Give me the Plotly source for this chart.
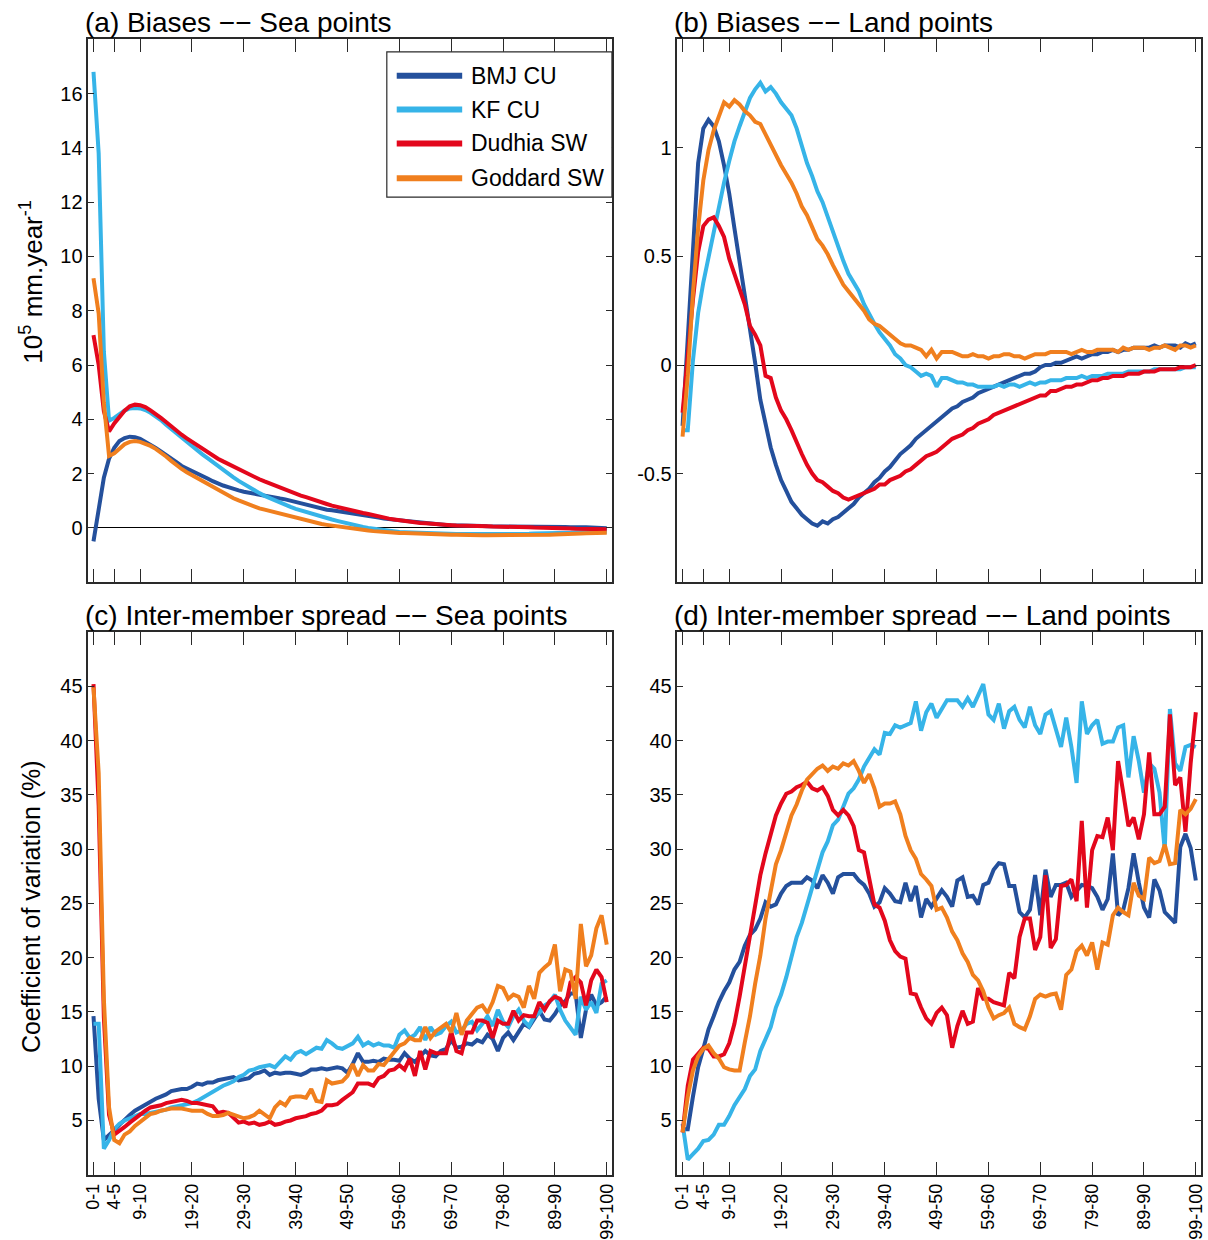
import plotly.graph_objects as go

W, H = 1208, 1240
FONT = "Liberation Sans, Arial, Helvetica, sans-serif"

# Precipitation-intensity bins (percentile classes) on the x axis
BIN_LABELS = [f"{i}-{i + 1}" for i in range(100)]
TICK_LABELS = ["0-1", "4-5", "9-10", "19-20", "29-30", "39-40", "49-50",
               "59-60", "69-70", "79-80", "89-90", "99-100"]

SERIES = ["BMJ CU", "KF CU", "Dudhia SW", "Goddard SW"]
COLORS = ["#24509C", "#36B4E8", "#E3071C", "#F07F1E"]

# ---- (a) Biases, sea points (10^5 mm/year) ----
bias_sea_bmj = [
    -0.50, 0.75, 1.85, 2.55, 2.95, 3.20, 3.31, 3.36, 3.34, 3.28,
    3.18, 3.06, 2.94, 2.82, 2.70, 2.57, 2.42, 2.28, 2.18, 2.10,
    2.00, 1.92, 1.82, 1.72, 1.62, 1.56, 1.50, 1.43, 1.38, 1.33,
    1.29, 1.25, 1.22, 1.18, 1.15, 1.12, 1.08, 1.05, 1.00, 0.94,
    0.89, 0.84, 0.79, 0.74, 0.70, 0.67, 0.65, 0.62, 0.60, 0.58,
    0.56, 0.52, 0.48, 0.45, 0.42, 0.38, 0.34, 0.32, 0.29, 0.27,
    0.25, 0.22, 0.20, 0.19, 0.17, 0.15, 0.14, 0.12, 0.11, 0.10,
    0.10, 0.09, 0.08, 0.08, 0.07, 0.07, 0.06, 0.06, 0.06, 0.05,
    0.06, 0.05, 0.04, 0.05, 0.04, 0.04, 0.03, 0.05, 0.04, 0.04,
    0.03, 0.03, 0.02, 0.03, 0.02, 0.02, 0.01, 0.01, 0.00, -0.01]
bias_sea_kf = [
    16.80, 13.80, 6.50, 3.95, 4.05, 4.20, 4.32, 4.40, 4.42, 4.40,
    4.34, 4.24, 4.12, 3.97, 3.80, 3.64, 3.47, 3.31, 3.16, 3.01,
    2.86, 2.71, 2.57, 2.42, 2.27, 2.13, 2.00, 1.86, 1.73, 1.61,
    1.49, 1.38, 1.28, 1.18, 1.09, 1.00, 0.92, 0.84, 0.77, 0.70,
    0.64, 0.58, 0.52, 0.46, 0.41, 0.36, 0.31, 0.26, 0.21, 0.15,
    0.10, 0.06, 0.03, 0.00, -0.03, -0.06, -0.09, -0.11, -0.13, -0.15,
    -0.16, -0.17, -0.18, -0.19, -0.20, -0.20, -0.21, -0.21, -0.22, -0.22,
    -0.23, -0.23, -0.23, -0.24, -0.24, -0.24, -0.24, -0.25, -0.24, -0.24,
    -0.24, -0.23, -0.23, -0.22, -0.22, -0.21, -0.21, -0.20, -0.20, -0.19,
    -0.19, -0.18, -0.18, -0.17, -0.17, -0.16, -0.16, -0.15, -0.15, -0.14]
bias_sea_dudhia = [
    7.10, 6.00, 4.30, 3.55, 3.85, 4.10, 4.32, 4.48, 4.54, 4.52,
    4.45, 4.33, 4.21, 4.05, 3.90, 3.73, 3.57, 3.43, 3.30, 3.17,
    3.04, 2.91, 2.79, 2.67, 2.55, 2.45, 2.35, 2.25, 2.16, 2.06,
    1.96, 1.87, 1.79, 1.71, 1.63, 1.55, 1.47, 1.40, 1.33, 1.26,
    1.19, 1.13, 1.06, 0.99, 0.93, 0.88, 0.82, 0.77, 0.72, 0.68,
    0.63, 0.59, 0.55, 0.51, 0.46, 0.41, 0.37, 0.34, 0.31, 0.28,
    0.25, 0.22, 0.20, 0.18, 0.17, 0.15, 0.14, 0.12, 0.11, 0.10,
    0.09, 0.09, 0.08, 0.08, 0.07, 0.07, 0.06, 0.05, 0.05, 0.04,
    0.04, 0.03, 0.03, 0.02, 0.02, 0.01, 0.01, 0.00, 0.00, -0.01,
    -0.01, -0.02, -0.02, -0.03, -0.03, -0.03, -0.04, -0.04, -0.05, -0.05]
bias_sea_goddard = [
    9.20, 7.90, 4.60, 2.65, 2.75, 2.92, 3.08, 3.17, 3.20, 3.17,
    3.11, 3.02, 2.91, 2.78, 2.63, 2.47, 2.31, 2.17, 2.05, 1.94,
    1.82, 1.71, 1.60, 1.49, 1.38, 1.28, 1.18, 1.09, 1.01, 0.93,
    0.84, 0.77, 0.72, 0.67, 0.62, 0.57, 0.52, 0.47, 0.42, 0.37,
    0.32, 0.27, 0.22, 0.18, 0.14, 0.11, 0.08, 0.05, 0.02, -0.01,
    -0.04, -0.06, -0.08, -0.10, -0.12, -0.14, -0.16, -0.17, -0.18, -0.19,
    -0.19, -0.20, -0.20, -0.21, -0.22, -0.23, -0.23, -0.24, -0.24, -0.25,
    -0.25, -0.26, -0.26, -0.26, -0.27, -0.27, -0.27, -0.27, -0.28, -0.27,
    -0.27, -0.27, -0.27, -0.26, -0.27, -0.26, -0.26, -0.25, -0.25, -0.24,
    -0.24, -0.23, -0.22, -0.22, -0.21, -0.20, -0.20, -0.19, -0.19, -0.18]

# ---- (b) Biases, land points (10^5 mm/year) ----
bias_land_bmj = [
    -0.28, 0.15, 0.55, 0.93, 1.09, 1.13, 1.10, 1.03, 0.92, 0.79,
    0.63, 0.48, 0.33, 0.18, 0.01, -0.16, -0.28, -0.38, -0.46, -0.53,
    -0.58, -0.63, -0.66, -0.69, -0.71, -0.73, -0.74, -0.72, -0.73, -0.71,
    -0.70, -0.68, -0.66, -0.64, -0.61, -0.59, -0.57, -0.54, -0.52, -0.49,
    -0.47, -0.44, -0.41, -0.39, -0.37, -0.34, -0.32, -0.30, -0.28, -0.26,
    -0.24, -0.22, -0.20, -0.19, -0.17, -0.16, -0.15, -0.13, -0.12, -0.11,
    -0.10, -0.09, -0.08, -0.07, -0.06, -0.05, -0.04, -0.04, -0.03, -0.01,
    0.00, 0.00, 0.01, 0.01, 0.02, 0.03, 0.04, 0.03, 0.04, 0.05,
    0.05, 0.06, 0.06, 0.07, 0.06, 0.07, 0.07, 0.08, 0.08, 0.08,
    0.08, 0.09, 0.08, 0.09, 0.09, 0.09, 0.08, 0.10, 0.09, 0.10]
bias_land_kf = [
    -0.30, -0.30, 0.02, 0.24, 0.38, 0.50, 0.62, 0.73, 0.84, 0.94,
    1.03, 1.10, 1.17, 1.23, 1.27, 1.30, 1.26, 1.28, 1.25, 1.21,
    1.18, 1.15, 1.09, 1.01, 0.93, 0.87, 0.80, 0.75, 0.68, 0.62,
    0.55, 0.48, 0.42, 0.38, 0.34, 0.28, 0.23, 0.19, 0.15, 0.12,
    0.09, 0.05, 0.03, 0.00, -0.01, -0.03, -0.05, -0.04, -0.05, -0.10,
    -0.06, -0.06, -0.07, -0.08, -0.08, -0.09, -0.09, -0.10, -0.10, -0.10,
    -0.10, -0.09, -0.10, -0.09, -0.09, -0.10, -0.09, -0.08, -0.09, -0.08,
    -0.08, -0.07, -0.07, -0.07, -0.06, -0.06, -0.06, -0.05, -0.06, -0.05,
    -0.05, -0.05, -0.04, -0.04, -0.04, -0.04, -0.03, -0.03, -0.03, -0.03,
    -0.03, -0.02, -0.02, -0.02, -0.02, -0.02, -0.02, -0.01, -0.01, -0.01]
bias_land_dudhia = [
    -0.22, 0.05, 0.30, 0.52, 0.64, 0.67, 0.68, 0.64, 0.59, 0.49,
    0.42, 0.35, 0.28, 0.18, 0.14, 0.09, -0.05, -0.06, -0.15, -0.21,
    -0.25, -0.30, -0.36, -0.41, -0.46, -0.50, -0.53, -0.54, -0.56, -0.58,
    -0.59, -0.61, -0.62, -0.61, -0.60, -0.59, -0.58, -0.57, -0.55, -0.55,
    -0.53, -0.52, -0.51, -0.49, -0.48, -0.46, -0.44, -0.42, -0.41, -0.40,
    -0.38, -0.36, -0.34, -0.33, -0.32, -0.30, -0.29, -0.27, -0.26, -0.25,
    -0.23, -0.22, -0.21, -0.20, -0.19, -0.18, -0.17, -0.16, -0.15, -0.14,
    -0.14, -0.12, -0.12, -0.11, -0.10, -0.10, -0.09, -0.09, -0.08, -0.07,
    -0.07, -0.06, -0.06, -0.05, -0.05, -0.05, -0.04, -0.04, -0.04, -0.03,
    -0.03, -0.03, -0.02, -0.02, -0.02, -0.02, -0.01, -0.01, -0.01, 0.00]
bias_land_goddard = [
    -0.33, -0.05, 0.33, 0.63, 0.85, 0.99, 1.08, 1.15, 1.21, 1.19,
    1.22, 1.20, 1.17, 1.15, 1.12, 1.11, 1.06, 1.01, 0.96, 0.92,
    0.88, 0.84, 0.79, 0.73, 0.69, 0.63, 0.58, 0.55, 0.51, 0.46,
    0.41, 0.37, 0.34, 0.31, 0.28, 0.25, 0.21, 0.19, 0.18, 0.16,
    0.14, 0.12, 0.10, 0.09, 0.09, 0.08, 0.07, 0.04, 0.07, 0.03,
    0.06, 0.06, 0.06, 0.05, 0.04, 0.04, 0.05, 0.04, 0.04, 0.03,
    0.04, 0.04, 0.05, 0.05, 0.04, 0.04, 0.03, 0.04, 0.05, 0.05,
    0.05, 0.06, 0.06, 0.06, 0.06, 0.05, 0.06, 0.07, 0.06, 0.06,
    0.07, 0.07, 0.07, 0.07, 0.06, 0.08, 0.07, 0.08, 0.08, 0.08,
    0.07, 0.08, 0.08, 0.09, 0.08, 0.07, 0.09, 0.09, 0.08, 0.09]

# ---- (c) Inter-member spread, sea points (coefficient of variation, %) ----
spread_sea_bmj = [
    14.6, 7.0, 3.2, 3.6, 4.1, 4.6, 5.1, 5.5, 5.9, 6.2,
    6.5, 6.8, 7.0, 7.2, 7.4, 7.7, 7.8, 7.9, 7.9, 8.1,
    8.4, 8.3, 8.5, 8.5, 8.7, 8.8, 8.9, 9.0, 8.7, 8.8,
    8.9, 9.3, 9.4, 9.6, 9.2, 9.4, 9.3, 9.4, 9.4, 9.3,
    9.2, 9.4, 9.7, 9.7, 9.8, 9.7, 9.8, 9.9, 9.8, 9.4,
    10.2, 11.2, 10.4, 10.4, 10.5, 10.4, 10.7, 10.6, 10.6, 10.5,
    11.2, 10.7, 10.4, 10.9, 11.4, 11.0, 10.9, 11.4, 11.6, 12.4,
    11.7, 11.8, 12.1, 12.0, 12.4, 12.2, 12.9, 12.5, 11.4, 12.6,
    13.1, 12.4, 13.2, 13.9, 13.6, 14.4, 15.1, 14.3, 14.2, 14.8,
    15.6, 16.0, 16.7, 16.7, 12.6, 15.2, 16.6, 15.6, 15.9, 16.4]
spread_sea_kf = [
    13.9, 13.9, 2.4, 3.2, 4.2, 4.7, 5.0, 5.2, 5.4, 5.6,
    5.6, 5.7, 5.8, 5.9, 6.0, 6.2, 6.3, 6.4, 6.5, 6.6,
    6.8, 7.1, 7.4, 7.7, 8.0, 8.2, 8.4, 8.6, 9.0, 9.2,
    9.6, 9.7, 9.9, 10.0, 10.1, 9.9, 10.4, 10.9, 10.6, 11.2,
    11.4, 11.1, 11.4, 11.7, 11.6, 12.4, 12.1, 11.7, 11.6, 11.9,
    12.1, 12.7, 11.9, 12.2, 11.9, 12.1, 11.9, 11.9, 11.7, 12.9,
    13.3, 12.6, 12.9, 13.6, 12.4, 13.6, 12.9, 13.1, 13.7, 14.1,
    13.1, 13.3, 13.9, 14.1, 13.3, 13.9, 14.6, 13.7, 15.2, 14.1,
    13.6, 14.6, 15.2, 14.2, 13.7, 14.6, 14.9, 15.6, 15.9, 16.6,
    15.2, 14.2, 13.6, 12.9, 16.4, 15.2, 15.9, 14.9, 17.6, 17.9]
spread_sea_dudhia = [
    45.2, 34.0, 14.5, 5.5, 3.7, 4.0, 4.4, 4.8, 5.2, 5.6,
    5.9, 6.2, 6.3, 6.4, 6.6, 6.7, 6.8, 6.9, 6.8, 6.6,
    6.6, 6.5, 6.4, 6.3, 5.7, 5.8, 5.7, 5.3, 4.8, 4.9,
    4.7, 4.8, 4.6, 4.7, 4.9, 4.6, 4.7, 4.9, 5.0, 5.2,
    5.3, 5.4, 5.6, 5.7, 5.9, 6.4, 6.4, 6.5, 6.9, 7.3,
    7.6, 8.4, 8.4, 8.4, 8.2, 8.9, 9.1, 9.6, 9.7, 10.1,
    9.7, 10.7, 9.1, 11.4, 9.7, 11.4, 11.2, 11.2, 11.2, 13.2,
    11.4, 11.2, 13.1, 13.1, 14.2, 14.2, 14.0, 12.6, 14.2, 13.9,
    13.9, 15.1, 14.2, 14.7, 14.6, 14.6, 15.9, 15.2, 16.0, 16.4,
    16.2, 15.4, 17.7, 18.2, 17.7, 15.6, 17.9, 18.9, 18.2, 15.9]
spread_sea_goddard = [
    44.9, 37.0, 16.2, 6.2, 3.2, 2.9, 3.7, 4.0, 4.5, 4.9,
    5.3, 5.6, 5.7, 5.9, 6.0, 6.1, 6.1, 6.1, 6.0, 5.9,
    5.9, 5.9, 5.6, 5.4, 5.4, 5.5, 5.7, 5.5, 5.4, 5.2,
    5.3, 5.5, 5.9, 5.6, 5.2, 6.2, 6.7, 6.4, 7.1, 7.2,
    7.2, 7.1, 7.9, 6.8, 6.7, 8.7, 8.4, 8.5, 8.6, 9.1,
    10.2, 9.1, 10.1, 9.6, 9.6, 10.2, 10.1, 10.7, 11.3, 11.9,
    12.1, 12.6, 12.4, 12.4, 13.6, 12.6, 13.2, 13.6, 13.9, 13.1,
    14.9, 12.9, 14.2, 14.8, 15.4, 15.6, 14.9, 15.9, 17.4, 17.2,
    16.2, 16.6, 16.4, 15.4, 17.4, 16.2, 18.6, 19.1, 19.5, 21.2,
    16.9, 18.9, 18.7, 16.2, 23.1, 19.2, 20.2, 22.7, 23.9, 21.2]

# ---- (d) Inter-member spread, land points (coefficient of variation, %) ----
spread_land_bmj = [
    4.2, 4.2, 7.2, 9.9, 11.6, 13.4, 14.6, 15.9, 16.9, 17.7,
    18.9, 19.6, 21.1, 22.1, 22.6, 23.6, 25.1, 24.7, 24.9, 25.9,
    26.6, 26.9, 26.9, 26.9, 27.4, 27.1, 26.4, 27.6, 26.9, 25.9,
    27.4, 27.7, 27.7, 27.7, 27.1, 26.7, 25.9, 24.7, 25.1, 26.4,
    25.9, 25.2, 25.1, 26.9, 25.2, 26.6, 23.7, 25.4, 24.7, 25.4,
    26.2, 25.6, 24.7, 27.1, 27.4, 25.6, 25.7, 24.9, 26.7, 26.9,
    28.1, 28.7, 28.6, 26.6, 26.6, 24.2, 23.7, 24.4, 27.6, 23.9,
    28.1, 25.6, 26.7, 26.7, 26.9, 25.6, 26.2, 26.7, 26.6, 26.4,
    25.6, 24.4, 25.4, 29.6, 23.9, 24.4, 26.4, 29.6, 26.9, 24.6,
    23.7, 27.2, 26.2, 24.2, 23.7, 23.2, 30.2, 31.4, 30.1, 27.1]
spread_land_kf = [
    4.7, 1.4, 1.9, 2.4, 3.1, 3.2, 3.7, 4.6, 4.6, 5.4,
    6.4, 7.1, 7.9, 9.1, 9.7, 11.4, 12.6, 13.6, 15.4, 16.6,
    18.2, 20.2, 21.9, 23.2, 24.9, 26.6, 28.2, 29.7, 30.7, 32.2,
    32.7, 33.9, 35.1, 35.6, 36.4, 37.6, 38.4, 39.2, 38.7, 40.7,
    40.6, 41.4, 41.2, 41.4, 41.6, 43.6, 40.9, 42.6, 43.4, 42.1,
    42.9, 43.7, 43.7, 43.7, 43.1, 43.9, 43.1, 44.2, 45.2, 42.4,
    41.9, 43.4, 41.1, 42.7, 43.1, 41.9, 41.2, 43.1, 41.4, 40.6,
    42.4, 42.7, 41.2, 39.4, 42.1, 39.4, 36.1, 43.6, 40.6, 41.4,
    41.9, 39.7, 39.9, 39.9, 41.2, 41.4, 36.6, 40.4, 38.1, 35.2,
    37.9, 37.4, 35.2, 29.9, 42.9, 37.9, 37.2, 39.4, 39.6, 39.4]
spread_land_dudhia = [
    3.9, 8.2, 10.6, 11.2, 11.7, 11.6, 10.9, 10.9, 11.1, 12.1,
    13.9, 16.4, 19.2, 21.9, 24.9, 27.6, 29.6, 31.2, 33.1, 34.2,
    35.1, 35.3, 35.7, 35.9, 36.2, 35.6, 35.4, 35.7, 34.9, 33.6,
    33.1, 33.6, 33.1, 32.1, 29.9, 29.7, 27.2, 24.9, 24.6, 23.4,
    21.6, 20.6, 20.1, 19.9, 16.7, 16.6, 15.4, 14.4, 13.9, 14.9,
    15.4, 14.7, 11.7, 13.7, 15.1, 13.9, 14.1, 17.2, 16.2, 16.2,
    15.9, 15.7, 15.6, 18.6, 18.1, 21.9, 23.6, 23.6, 20.7, 21.9,
    27.6, 20.9, 21.7, 26.6, 26.7, 27.2, 25.2, 32.6, 24.6, 29.9,
    31.2, 31.1, 32.9, 29.9, 38.1, 35.2, 32.1, 32.9, 30.9, 33.2,
    38.9, 33.2, 33.2, 33.9, 42.4, 35.9, 36.6, 31.6, 37.9, 42.6]
spread_land_goddard = [
    3.9, 7.2, 9.6, 10.9, 11.6, 11.9, 11.2, 10.7, 9.9, 9.7,
    9.6, 9.6, 12.2, 14.6, 17.6, 20.2, 23.6, 26.1, 28.6, 29.9,
    31.6, 33.1, 34.1, 35.4, 36.4, 36.9, 37.4, 37.7, 37.2, 37.6,
    37.4, 37.9, 37.7, 38.1, 37.2, 36.1, 36.9, 35.6, 33.9, 34.2,
    34.2, 34.4, 33.2, 31.2, 29.9, 29.1, 27.7, 27.2, 26.6, 24.4,
    24.6, 23.7, 22.4, 21.6, 20.4, 19.6, 18.4, 17.9, 16.9, 15.4,
    14.4, 14.7, 14.9, 15.4, 13.9, 13.6, 13.4, 14.6, 16.2, 16.6,
    16.4, 16.6, 16.7, 15.2, 18.4, 18.9, 20.6, 21.1, 20.2, 21.4,
    18.9, 21.4, 21.2, 23.9, 24.6, 24.2, 23.9, 26.9, 25.7, 25.4,
    29.2, 28.7, 28.9, 30.4, 28.6, 28.7, 33.6, 33.2, 33.7, 34.6]

BIAS_SEA_TICKS = [0, 2, 4, 6, 8, 10, 12, 14, 16]
BIAS_LAND_TICKS = [-0.5, 0, 0.5, 1]
BIAS_LAND_TICKTEXT = ["-0.5", "0", "0.5", "1"]
SPREAD_TICKS = [5, 10, 15, 20, 25, 30, 35, 40, 45]


def px_x(p):
    return p / W


def px_y(p):
    return 1 - p / H


# panel frames in page pixels: left, right, top, bottom
PANELS = [
    dict(name="", title="(a) Biases \u2212\u2212 Sea points", frame=(84, 612, 39.5, 584.5),
         data=[bias_sea_bmj, bias_sea_kf, bias_sea_dudhia, bias_sea_goddard],
         yrange=[-2, 18], yticks=BIAS_SEA_TICKS, yticktext=[str(v) for v in BIAS_SEA_TICKS],
         zero=True, xlabels=False),
    dict(name="2", title="(b) Biases \u2212\u2212 Land points", frame=(678, 1206, 39.5, 584.5),
         data=[bias_land_bmj, bias_land_kf, bias_land_dudhia, bias_land_goddard],
         yrange=[-1, 1.5], yticks=BIAS_LAND_TICKS, yticktext=BIAS_LAND_TICKTEXT,
         zero=True, xlabels=False),
    dict(name="3", title="(c) Inter-member spread \u2212\u2212 Sea points", frame=(84, 612, 634.5, 1179.5),
         data=[spread_sea_bmj, spread_sea_kf, spread_sea_dudhia, spread_sea_goddard],
         yrange=[0, 50], yticks=SPREAD_TICKS, yticktext=[str(v) for v in SPREAD_TICKS],
         zero=False, xlabels=True),
    dict(name="4", title="(d) Inter-member spread \u2212\u2212 Land points", frame=(678, 1206, 634.5, 1179.5),
         data=[spread_land_bmj, spread_land_kf, spread_land_dudhia, spread_land_goddard],
         yrange=[0, 50], yticks=SPREAD_TICKS, yticktext=[str(v) for v in SPREAD_TICKS],
         zero=False, xlabels=True),
]

AXIS_COLOR = "#2a2a2a"

fig = go.Figure()
layout = dict(
    width=W, height=H, autosize=False,
    margin=dict(l=0, r=0, t=0, b=0),
    paper_bgcolor="white", plot_bgcolor="white",
    showlegend=False,
    font=dict(family=FONT, color="black", size=20),
)
annotations = []
shapes = []

for p in PANELS:
    l, r, t, b = p["frame"]
    xa, ya = "x" + p["name"], "y" + p["name"]
    for name, color, vals in zip(SERIES, COLORS, p["data"]):
        fig.add_trace(go.Scatter(
            x=BIN_LABELS, y=vals, name=name, mode="lines",
            line=dict(color=color, width=4),
            xaxis=xa, yaxis=ya, showlegend=False,
        ))
    layout["xaxis" + p["name"]] = dict(
        domain=[px_x(l), px_x(r)], anchor=ya,
        type="category", categoryorder="array", categoryarray=BIN_LABELS,
        range=[-1, 100],
        tickmode="array", tickvals=TICK_LABELS, ticktext=TICK_LABELS,
        ticks="inside", ticklen=13, tickwidth=1.2, tickcolor=AXIS_COLOR,
        showline=True, linecolor=AXIS_COLOR, linewidth=1.5, mirror="ticks",
        showgrid=False, zeroline=False,
        showticklabels=p["xlabels"], tickangle=-90,
        tickfont=dict(size=18, family=FONT, color="black"),
    )
    layout["yaxis" + p["name"]] = dict(
        domain=[px_y(b), px_y(t)], anchor=xa,
        range=p["yrange"],
        tickmode="array", tickvals=p["yticks"], ticktext=p["yticktext"],
        ticks="inside", ticklen=6, tickwidth=1.2, tickcolor=AXIS_COLOR,
        showline=True, linecolor=AXIS_COLOR, linewidth=1.5, mirror="ticks",
        showgrid=False,
        zeroline=p["zero"], zerolinecolor="black", zerolinewidth=1,
        tickfont=dict(size=20, family=FONT, color="black"),
    )
    # panel title, left-aligned with the frame
    annotations.append(dict(
        text=p["title"], xref="paper", yref="paper",
        x=px_x(l - 5), y=px_y(t - 17), xanchor="left", yanchor="middle",
        showarrow=False, font=dict(size=28, family=FONT, color="black"),
    ))

# y-axis titles
annotations.append(dict(
    text="10<sup>5</sup> mm.year<sup>-1</sup>", xref="paper", yref="paper",
    x=px_x(27), y=px_y(283), xanchor="center", yanchor="middle", textangle=-90,
    showarrow=False, font=dict(size=26, family=FONT, color="black"),
))
annotations.append(dict(
    text="Coefficient of variation (%)", xref="paper", yref="paper",
    x=px_x(27), y=px_y(910), xanchor="center", yanchor="middle", textangle=-90,
    showarrow=False, font=dict(size=25, family=FONT, color="black"),
))

# legend box in the upper-right corner of panel (a)
LEG_L, LEG_R, LEG_T, LEG_B = 385, 612, 52, 198
LEG_ROWS = [76, 110, 144, 179]
shapes.append(dict(
    type="rect", xref="paper", yref="paper",
    x0=px_x(LEG_L), x1=px_x(LEG_R), y0=px_y(LEG_B), y1=px_y(LEG_T),
    line=dict(color=AXIS_COLOR, width=1.2), fillcolor="white", layer="above",
))
for name, color, row in zip(SERIES, COLORS, LEG_ROWS):
    shapes.append(dict(
        type="line", xref="paper", yref="paper",
        x0=px_x(395), x1=px_x(461), y0=px_y(row), y1=px_y(row),
        line=dict(color=color, width=6), layer="above",
    ))
    annotations.append(dict(
        text=name, xref="paper", yref="paper",
        x=px_x(468), y=px_y(row), xanchor="left", yanchor="middle",
        showarrow=False, font=dict(size=23, family=FONT, color="black"),
    ))

layout["annotations"] = annotations
layout["shapes"] = shapes
fig.update_layout(**layout)

fig.write_html("out.html")
